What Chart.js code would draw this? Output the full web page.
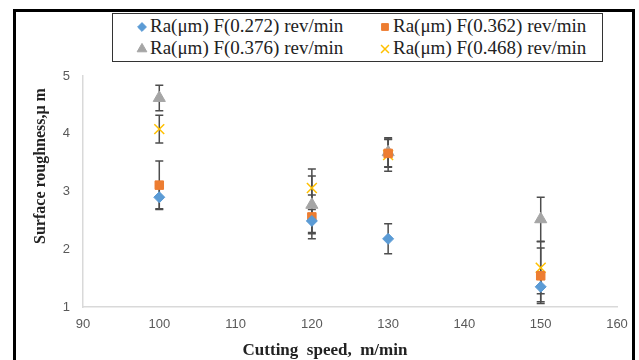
<!DOCTYPE html>
<html>
<head>
<meta charset="utf-8">
<script src="https://cdn.jsdelivr.net/npm/chart.js@4"></script>
<style>
  html, body { margin: 0; padding: 0; background: #fff; }
  #wrap { position: relative; width: 639px; height: 360px; overflow: hidden; }
  #frame {
    position: absolute; left: 13px; top: 9px; width: 622px; height: 360px;
    border-left: 3px solid #000; border-right: 3px solid #000; border-top: 3px solid #000;
    box-sizing: border-box;
  }
  #legend {
    position: absolute; left: 112px; top: 13px; width: 491px; height: 49px;
    border: 1.5px solid #333; box-sizing: border-box; background: #fff;
    font-family: "Liberation Serif", "DejaVu Serif", serif; font-size: 19px; color: #222;
  }
  .item { position: absolute; display: flex; align-items: center; white-space: nowrap; line-height: 20px; }
  .item canvas { margin-right: 1px; }
  canvas#chart { position: absolute; left: 0; top: 0; }
</style>
</head>
<body>
<div id="wrap">
  <div id="frame"></div>
  <canvas id="chart" width="639" height="360"></canvas>
  <div id="legend"></div>
</div>
<script>
// ===== Data =====
const speeds = [100, 120, 130, 150];

const seriesLabels = [
  'Ra(\u03bcm) F(0.272) rev/min',
  'Ra(\u03bcm) F(0.362) rev/min',
  'Ra(\u03bcm) F(0.376) rev/min',
  'Ra(\u03bcm) F(0.468) rev/min'
];

const ra272 = [2.90, 2.49, 2.18, 1.35];
const ra362 = [3.11, 2.56, 3.66, 1.54];
const ra376 = [4.62, 2.77, 3.68, 2.52];
const ra468 = [4.08, 3.06, 3.63, 1.68];

// +/- error per point
const err272 = [0.20, 0.20, 0.26, 0.26];
const err362 = [0.42, 0.38, 0.24, 0.48];
const err376 = [0.22, 0.50, 0.25, 0.38];
const err468 = [0.24, 0.33, 0.28, 0.45];

const xTicks = [90, 100, 110, 120, 130, 140, 150, 160];
const yTicks = [1, 2, 3, 4, 5];

const xTitle = 'Cutting  speed,  m/min';
const yTitle = 'Surface roughness,\u03bc m';

// ===== Styles =====
const colors = {
  blue: '#5B9BD5',
  orange: '#ED7D31',
  gray: '#A5A5A5',
  yellow: '#FFC000',
  errBar: '#4d4d4d',
  axis: '#D9D9D9',
  tick: '#595959'
};

const styles = [
  { pointStyle: 'rectRot', color: colors.blue, radius: 5.5, border: 1 },
  { pointStyle: 'rect', color: colors.orange, radius: 6, border: 1 },
  { pointStyle: 'triangle', color: colors.gray, radius: 7, border: 1 },
  { pointStyle: 'crossRot', color: colors.yellow, radius: 7, border: 1.5 }
];

const values = [ra272, ra362, ra376, ra468];
const errors = [err272, err362, err376, err468];

const datasets = values.map((vals, i) => ({
  label: seriesLabels[i],
  data: speeds.map((x, j) => ({ x, y: vals[j] })),
  errors: errors[i],
  pointStyle: styles[i].pointStyle,
  pointRadius: styles[i].radius,
  pointHoverRadius: styles[i].radius,
  backgroundColor: styles[i].color,
  borderColor: styles[i].color,
  borderWidth: styles[i].border,
  showLine: false
}));

// Error bars drawn under markers
const errorBars = {
  id: 'errorBars',
  beforeDatasetsDraw(chart) {
    const ctx = chart.ctx;
    const xs = chart.scales.x, ys = chart.scales.y;
    ctx.save();
    ctx.strokeStyle = colors.errBar;
    ctx.lineWidth = 1.5;
    chart.data.datasets.forEach(ds => {
      ds.data.forEach((p, j) => {
        const e = ds.errors[j];
        const px = xs.getPixelForValue(p.x);
        const top = ys.getPixelForValue(p.y + e);
        const bot = ys.getPixelForValue(p.y - e);
        ctx.beginPath();
        ctx.moveTo(px, top); ctx.lineTo(px, bot);
        ctx.moveTo(px - 4, top); ctx.lineTo(px + 4, top);
        ctx.moveTo(px - 4, bot); ctx.lineTo(px + 4, bot);
        ctx.stroke();
      });
    });
    ctx.restore();
  }
};

// Axis titles placed like the original (not centred on the plot)
const axisTitles = {
  id: 'axisTitles',
  afterDraw(chart) {
    const ctx = chart.ctx;
    ctx.save();
    ctx.fillStyle = '#222';
    ctx.textAlign = 'center';
    ctx.textBaseline = 'middle';
    ctx.font = 'bold 17px "Liberation Serif"';
    ctx.fillText(xTitle, 325, 351);
    ctx.translate(41, 166);
    ctx.rotate(-Math.PI / 2);
    ctx.font = 'bold 16px "Liberation Serif"';
    ctx.fillText(yTitle, 0, 0);
    ctx.restore();
  }
};

new Chart(document.getElementById('chart'), {
  type: 'scatter',
  data: { datasets },
  options: {
    responsive: false,
    animation: false,
    layout: { padding: { left: 14, right: 22, top: 76, bottom: 0 } },
    plugins: { legend: { display: false }, tooltip: { enabled: false } },
    scales: {
      x: {
        type: 'linear', min: 90, max: 160,
        afterBuildTicks: s => { s.ticks = xTicks.map(v => ({ value: v })); },
        afterFit: s => { s.height = 53; },
        grid: { display: false, drawTicks: false },
        border: { display: true, color: colors.axis, width: 1.5 },
        ticks: { color: colors.tick, padding: 10, font: { family: 'Liberation Sans', size: 13 } }
      },
      y: {
        type: 'linear', min: 1, max: 5,
        afterBuildTicks: s => { s.ticks = yTicks.map(v => ({ value: v })); },
        afterFit: s => { s.width = 69; },
        grid: { display: false, drawTicks: false },
        border: { display: true, color: colors.axis, width: 1.5 },
        ticks: { color: colors.tick, padding: 13, font: { family: 'Liberation Sans', size: 13 } }
      }
    }
  },
  plugins: [errorBars, axisTitles]
});

// HTML legend, 2x2
const legendPos = [
  { left: 22, top: 2 }, { left: 265, top: 2 },
  { left: 22, top: 24 }, { left: 265, top: 24 }
];
const legend = document.getElementById('legend');
seriesLabels.forEach((label, i) => {
  const item = document.createElement('div');
  item.className = 'item';
  item.style.left = legendPos[i].left + 'px';
  item.style.top = legendPos[i].top + 'px';
  const c = document.createElement('canvas');
  c.width = 14; c.height = 18;
  const cx = c.getContext('2d');
  cx.fillStyle = styles[i].color;
  cx.strokeStyle = styles[i].color;
  cx.lineWidth = styles[i].border;
  Chart.helpers.drawPoint(cx, {
    pointStyle: styles[i].pointStyle, radius: styles[i].radius * 0.8,
    borderWidth: styles[i].border, rotation: 0
  }, 7, 10);
  const span = document.createElement('span');
  span.textContent = label;
  item.appendChild(c);
  item.appendChild(span);
  legend.appendChild(item);
});
</script>
</body>
</html>
